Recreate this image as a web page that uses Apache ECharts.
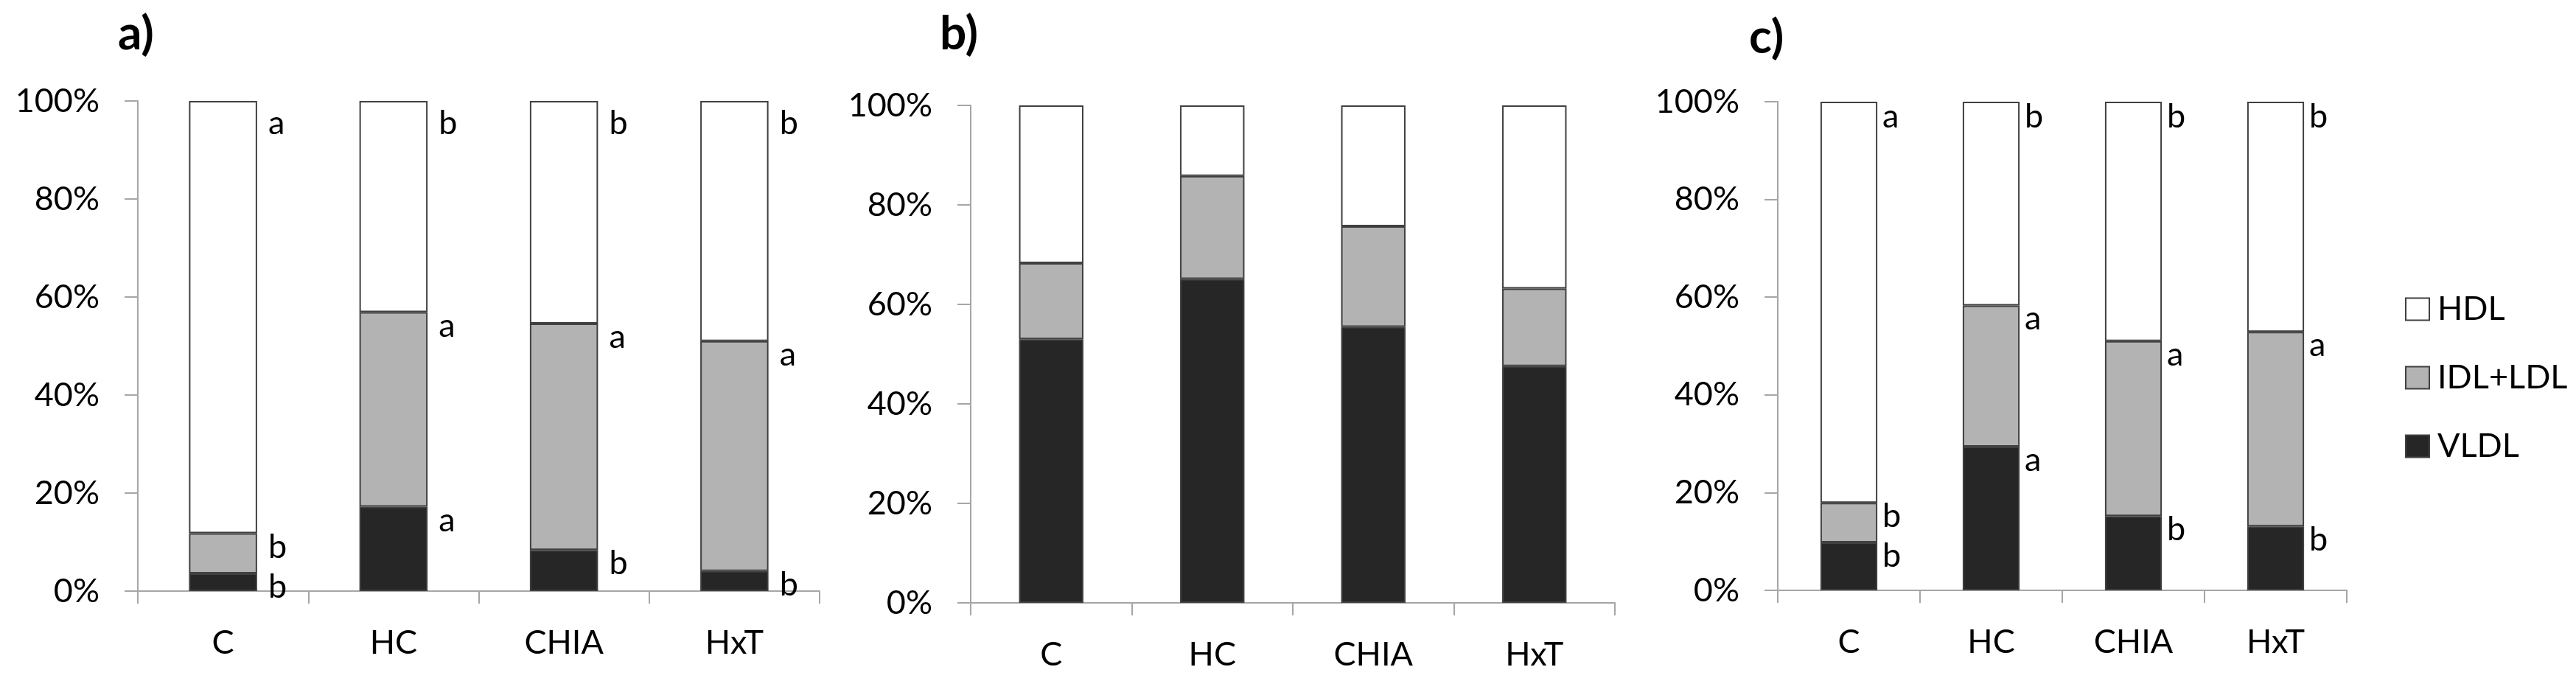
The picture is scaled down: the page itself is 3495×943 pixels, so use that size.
<!DOCTYPE html>
<html>
<head>
<meta charset="utf-8">
<script src="https://cdn.jsdelivr.net/npm/echarts@6/dist/echarts.min.js"></script>
<style>
html,body{margin:0;padding:0;background:#fff;}
#chart{width:3495px;height:943px;}
</style>
</head>
<body>
<div id="chart"></div>
<script>
// ---- data ----
const categories = ['C', 'HC', 'CHIA', 'HxT'];
const legendNames = ['HDL', 'IDL+LDL', 'VLDL'];
const panelTitles = ['a)', 'b)', 'c)'];
const yTickMin = 0, yTickMax = 100, yTickStep = 20;

const aVLDL = [3.6, 17.2, 8.4, 4.1];
const aIDL  = [8.2, 39.7, 46.2, 46.9];
const aHDL  = [88.2, 43.1, 45.4, 49.0];

const bVLDL = [53.0, 65.1, 55.5, 47.6];
const bIDL  = [15.3, 20.7, 20.2, 15.6];
const bHDL  = [31.7, 14.2, 24.3, 36.8];

const cVLDL = [9.8, 29.4, 15.2, 13.1];
const cIDL  = [8.1, 28.9, 35.8, 39.8];
const cHDL  = [82.1, 41.7, 49.0, 47.1];

const aLetVLDL = ['b', 'a', 'b', 'b'];
const aLetIDL  = ['b', 'a', 'a', 'a'];
const aLetHDL  = ['a', 'b', 'b', 'b'];
const cLetVLDL = ['b', 'a', 'b', 'b'];
const cLetIDL  = ['b', 'a', 'a', 'a'];
const cLetHDL  = ['a', 'b', 'b', 'b'];

// ---- styles ----
const FONT = 'Lato, "Open Sans", sans-serif';
const TXT = '#000';
const AXIS = '#a6a6a6';
const colors = { 'VLDL': '#262626', 'IDL+LDL': '#b3b3b3', 'HDL': '#ffffff' };

const grids = [
  { left: 187, top: 137, width: 925, height: 665 },
  { left: 1317, top: 143, width: 874, height: 675 },
  { left: 2412, top: 138, width: 772, height: 663 }
];

const xAxes = grids.map((g, i) => ({
  type: 'category', gridIndex: i, data: categories,
  boundaryGap: true,
  axisLine: { show: true, lineStyle: { color: AXIS, width: 2 } },
  axisTick: { show: true, length: 17, lineStyle: { color: AXIS, width: 2 } },
  axisLabel: { fontSize: 45, fontFamily: FONT, color: TXT, margin: 48 }
}));
const yAxes = grids.map((g, i) => ({
  type: 'value', gridIndex: i, min: yTickMin, max: yTickMax, interval: yTickStep,
  axisLine: { show: true, lineStyle: { color: AXIS, width: 2 } },
  axisTick: { show: true, length: 18, lineStyle: { color: AXIS, width: 2 } },
  splitLine: { show: false },
  axisLabel: { fontSize: 45, fontFamily: FONT, color: TXT, margin: 52, formatter: '{value}%' }
}));

function mkSeries(name, data, gi, letters, gap, dy) {
  const s = {
    type: 'bar', name: name, data: data, stack: 'p' + gi,
    xAxisIndex: gi, yAxisIndex: gi, barWidth: '40%',
    itemStyle: { color: colors[name], borderColor: '#404040', borderWidth: 2 },
    emphasis: { disabled: true }
  };
  if (letters) {
    s.label = {
      show: true, position: ['100%', '0%'], align: 'left', verticalAlign: 'top',
      offset: [gap, dy], fontSize: 45, fontFamily: FONT, color: TXT,
      formatter: p => letters[p.dataIndex]
    };
  }
  return s;
}

const series = [
  mkSeries('VLDL', aVLDL, 0, aLetVLDL, 15, -4),
  mkSeries('IDL+LDL', aIDL, 0, aLetIDL, 15, -4),
  mkSeries('HDL', aHDL, 0, aLetHDL, 15, 8),
  mkSeries('VLDL', bVLDL, 1, null, 0, 0),
  mkSeries('IDL+LDL', bIDL, 1, null, 0, 0),
  mkSeries('HDL', bHDL, 1, null, 0, 0),
  mkSeries('VLDL', cVLDL, 2, cLetVLDL, 7, -4),
  mkSeries('IDL+LDL', cIDL, 2, cLetIDL, 7, -4),
  mkSeries('HDL', cHDL, 2, cLetHDL, 7, -2)
];

const titlePos = [{ left: 160, top: 14 }, { left: 1275, top: 14 }, { left: 2373, top: 19 }];

const chart = echarts.init(document.getElementById('chart'), null, { renderer: 'canvas' });
chart.setOption({
  animation: false,
  backgroundColor: '#fff',
  title: panelTitles.map((t, i) => ({
    text: t, left: titlePos[i].left, top: titlePos[i].top, padding: 0,
    textStyle: { fontSize: 64, fontWeight: 'bold', fontFamily: FONT, color: TXT }
  })),
  legend: {
    data: legendNames, orient: 'vertical', left: 3258, top: 392,
    itemWidth: 32, itemHeight: 30, itemGap: 48, icon: 'rect',
    selectedMode: false,
    textStyle: { fontSize: 45, fontFamily: FONT, color: TXT, padding: [0, 0, 0, 6] }
  },
  grid: grids,
  xAxis: xAxes,
  yAxis: yAxes,
  series: series
});
</script>
</body>
</html>
